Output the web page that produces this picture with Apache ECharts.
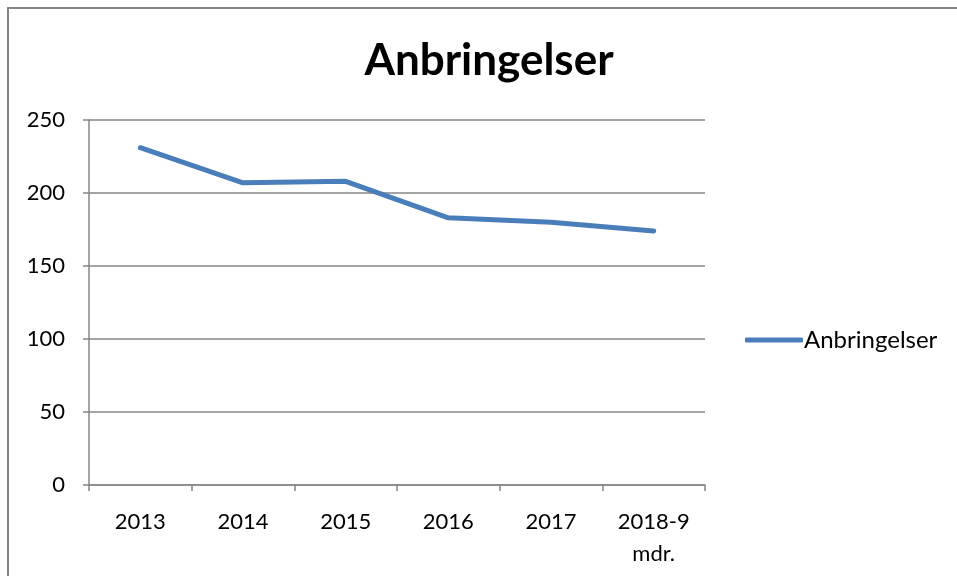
<!DOCTYPE html>
<html>
<head>
<meta charset="utf-8">
<script src="https://cdn.jsdelivr.net/npm/echarts@6/dist/echarts.min.js"></script>
<style>
html,body{margin:0;padding:0;background:#fff;}
#c{width:957px;height:576px;}
</style>
</head>
<body>
<div id="c"></div>
<script>
const categories = ['2013', '2014', '2015', '2016', '2017', '2018-9\nmdr.'];
const values = [231, 207, 208, 183, 180, 174];
const seriesName = 'Anbringelser';
const titleText = 'Anbringelser';
const yTicks = [0, 50, 100, 150, 200, 250];

const FONT = 'Lato, "Open Sans", sans-serif';
const chart = echarts.init(document.getElementById('c'), null, {renderer: 'canvas'});
chart.setOption({
  animation: false,
  backgroundColor: '#fff',
  textStyle: {fontFamily: FONT},
  graphic: [{
    type: 'rect', silent: true,
    shape: {x: 8, y: 8, width: 970, height: 600},
    style: {fill: 'none', stroke: '#868686', lineWidth: 2}
  }],
  title: {
    text: titleText, left: 484, top: 34, textAlign: 'center',
    textStyle: {fontFamily: FONT, fontSize: 44, fontWeight: 'bold', color: '#000'}
  },
  legend: {
    data: [seriesName], left: 740, top: 323, orient: 'vertical',
    icon: 'roundRect', itemWidth: 58, itemHeight: 5, itemGap: 0,
    textStyle: {fontFamily: FONT, fontSize: 24, color: '#000', padding: [0, 0, 0, -4]}
  },
  grid: {left: 89, right: 252, top: 120, bottom: 91, containLabel: false},
  xAxis: {
    type: 'category', data: categories, boundaryGap: true,
    axisLine: {lineStyle: {color: '#868686', width: 1.5}},
    axisTick: {show: true, length: 6, alignWithLabel: false, lineStyle: {color: '#868686', width: 1.5}},
    axisLabel: {fontFamily: FONT, fontSize: 22, color: '#000', margin: 21, lineHeight: 32, interval: 0},
    splitLine: {show: false}
  },
  yAxis: {
    type: 'value', min: 0, max: 250, interval: 50,
    axisLine: {show: true, lineStyle: {color: '#868686', width: 1.5}},
    axisTick: {show: true, length: 6, lineStyle: {color: '#868686', width: 1.5}},
    axisLabel: {fontFamily: FONT, fontSize: 22, color: '#000', margin: 24,
      formatter: v => yTicks.includes(v) ? String(v) : ''},
    splitLine: {show: true, lineStyle: {color: '#868686', width: 1.5}}
  },
  series: [{
    name: seriesName, type: 'line', data: values,
    showSymbol: false, symbol: 'none',
    lineStyle: {color: '#4a7ebb', width: 5, cap: 'round', join: 'round'},
    itemStyle: {color: '#4a7ebb'}
  }]
});
</script>
</body>
</html>
